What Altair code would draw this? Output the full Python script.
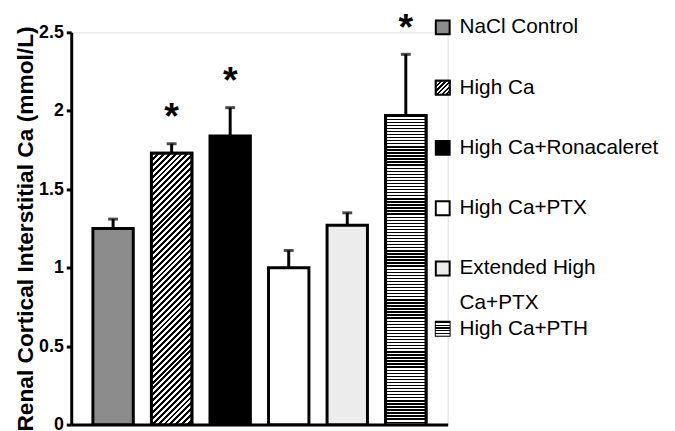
import altair as alt
import pandas as pd

# ---- data ----
categories = ["NaCl Control", "High Ca", "High Ca+Ronacaleret", "High Ca+PTX",
              "Extended High Ca+PTX", "High Ca+PTH"]
means = [1.25, 1.73, 1.84, 1.00, 1.27, 1.97]
sems = [0.06, 0.06, 0.18, 0.11, 0.08, 0.39]
significant = [False, True, True, False, False, True]
legend_line1 = ["NaCl Control", "High Ca", "High Ca+Ronacaleret", "High Ca+PTX",
                "Extended High", "High Ca+PTH"]
legend_line2 = ["", "", "", "", "Ca+PTX", ""]
y_ticks = [0, 0.5, 1, 1.5, 2, 2.5]
y_title = "Renal Cortical Interstitial Ca (mmol/L)"

# ---- styles ----
base_fills = ["#8c8c8c", "#9a9a9a", "#000000", "#ffffff", "#ececec", "#a0a0a0"]
W, H = 381, 397
Y_MAX = 2.5
PX = H / Y_MAX
INNER, OUTER = 0.31, 0.37
BAR_W = W / (len(categories) - INNER + 2 * OUTER) * (1 - INNER)
FONT = "Liberation Sans"

df = pd.DataFrame({
    "cat": categories,
    "mean": means,
    "upper": [m + s for m, s in zip(means, sems)],
    "sig": significant,
})
leg = pd.DataFrame({"cat": categories, "l1": legend_line1, "l2": legend_line2})


def stripe_stops(n, frac, dark="#000000", light="#ffffff"):
    stops = []
    for i in range(n):
        a = round(i / n, 6)
        b = round((i + frac) / n, 6)
        c = round((i + 1) / n, 6)
        stops += [alt.GradientStop(offset=a, color=dark),
                  alt.GradientStop(offset=b, color=dark),
                  alt.GradientStop(offset=b, color=light),
                  alt.GradientStop(offset=c, color=light)]
    return stops


def diag_gradient(w, h, period):
    n = max(1, int(round((w + h) / period)))
    k = (w + h) / (w * w + h * h)
    return alt.Gradient(gradient="linear", stops=stripe_stops(n, 0.5),
                        x1=0, y1=0, x2=w * k, y2=h * k)


def horiz_gradient(h, period):
    n = max(1, int(round(h / period)))
    return alt.Gradient(gradient="linear", stops=stripe_stops(n, 0.45),
                        x1=0, y1=0, x2=0, y2=1)


x_enc = alt.X("cat:N", sort=categories,
              scale=alt.Scale(domain=categories, paddingInner=INNER, paddingOuter=OUTER),
              axis=alt.Axis(labels=False, ticks=False, title=None, domainWidth=3,
                            domainColor="black"))
y_axis = alt.Axis(values=y_ticks, format=".1~f", title=y_title, grid=False)


def yq(field):
    return alt.Y(field, type="quantitative",
                 scale=alt.Scale(domain=[0, Y_MAX], nice=False), axis=y_axis, title=y_title)


fill_enc = alt.Fill("cat:N", scale=alt.Scale(domain=categories, range=base_fills), legend=None)

base = alt.Chart(df)

stems = base.mark_rule(color="black", strokeWidth=3).encode(
    x=x_enc, y=yq("mean"), y2="upper:Q")
caps = base.mark_tick(color="black", thickness=3, size=10).encode(x=x_enc, y=yq("upper"))
bars = base.mark_bar(stroke="black", strokeWidth=3).encode(x=x_enc, y=yq("mean"), fill=fill_enc)

h_hatch = means[1] * PX
hatch = base.transform_filter(alt.datum.cat == categories[1]).mark_bar(
    fill=diag_gradient(BAR_W, h_hatch, 6.0), stroke="black", strokeWidth=3
).encode(x=x_enc, y=yq("mean"))

h_str = means[5] * PX
striped = base.transform_filter(alt.datum.cat == categories[5]).mark_bar(
    fill=horiz_gradient(h_str, 3.1), stroke="black", strokeWidth=3
).encode(x=x_enc, y=yq("mean"))

stars = base.transform_filter(alt.datum.sig).mark_text(
    text="*", font=FONT, fontSize=38, fontWeight="bold",
    baseline="alphabetic", dy=-15, color="black"
).encode(x=x_enc, y=yq("upper"))

main = alt.layer(bars, stems, caps, hatch, striped, stars)

# ---- legend built from the category list ----
ly = alt.Y("cat:N", sort=categories,
           scale=alt.Scale(domain=categories, type="point", range=[-5, 300], padding=0),
           axis=None)
lbase = alt.Chart(leg)
SW_X = 376
sw = lbase.mark_square(size=196, stroke="black", strokeWidth=2, opacity=1).encode(
    x=alt.value(SW_X), y=ly, fill=fill_enc)
sw_hatch = lbase.transform_filter(alt.datum.cat == categories[1]).mark_square(
    size=196, stroke="black", strokeWidth=2, opacity=1,
    fill=diag_gradient(14, 14, 5.0)).encode(x=alt.value(SW_X), y=ly)
sw_str = lbase.transform_filter(alt.datum.cat == categories[5]).mark_square(
    size=196, stroke="white", strokeWidth=0, opacity=1,
    fill=horiz_gradient(14, 2.8)).encode(x=alt.value(SW_X), y=ly)
LX = SW_X + 17
t1 = lbase.mark_text(align="left", baseline="middle", font=FONT, fontSize=21,
                     color="black").encode(x=alt.value(LX), y=ly, text="l1:N")
t2 = lbase.transform_filter(alt.datum.l2 != "").mark_text(
    align="left", baseline="middle", font=FONT, fontSize=21, color="black", dy=35
).encode(x=alt.value(LX), y=ly, text="l2:N")
legend_layer = alt.layer(sw, sw_hatch, sw_str, t1, t2)

chart = alt.layer(main, legend_layer).resolve_scale(y="independent").properties(
    width=W, height=H,
    padding={"left": 64, "top": 22, "right": 222, "bottom": 20},
    autosize=alt.AutoSizeParams(type="none"),
).configure_view(stroke=None).configure(background="white").configure_axisY(
    domainWidth=3, domainColor="black", tickWidth=3, tickSize=5, tickColor="black",
    labelFont=FONT, labelFontWeight="bold", labelFontSize=18, labelColor="black",
    labelPadding=3, titleFont=FONT, titleFontWeight="bold", titleFontSize=23,
    titleColor="black", titlePadding=1, grid=False
)

chart.save("out.html", embed_options={"renderer": "svg", "actions": False})
